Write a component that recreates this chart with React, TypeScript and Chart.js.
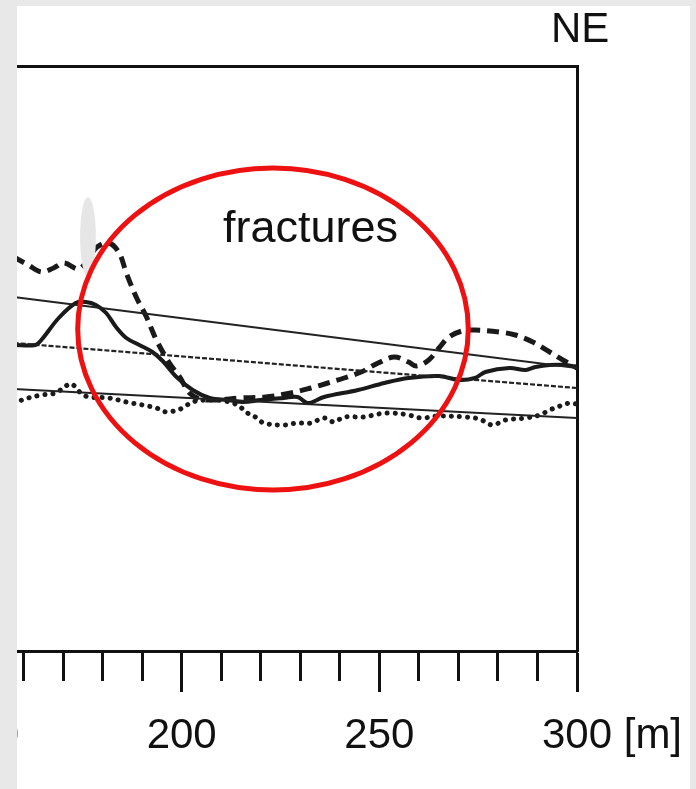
import React, { useEffect, useRef } from "react";
import { Chart, registerables } from "chart.js";

Chart.register(...registerables);

// distance along profile [m]
const dashedX = [157.5, 161.2, 164.5, 167.6, 170.2, 174.0, 176.5, 178.6, 181.6, 184.2, 186.0, 188.5, 191.1, 193.6, 196.9, 199.5, 202.0, 204.6, 208.4, 214.8, 221.2, 227.6, 232.7, 237.0, 241.1, 245.4, 249.7, 253.8, 257.4, 259.4, 262.5, 265.1, 267.6, 270.9, 274.2, 280.4, 284.4, 288.8, 293.1, 296.4, 300];
const dashedY = [394, 386, 379, 383, 388, 382, 393, 404, 408, 398, 378, 354, 334, 311, 288, 274, 258, 252, 251, 253, 254, 258, 263, 268, 273, 279, 288, 294, 289, 285, 291, 303, 314, 320, 321, 319, 316, 309, 299, 291, 283];

const solidX = [157.5, 163.0, 164.5, 168.9, 173.2, 175.8, 178.3, 180.9, 183.4, 186.0, 189.3, 192.6, 195.2, 198.7, 202.8, 207.1, 211.5, 215.6, 219.9, 225.8, 229.3, 231.9, 236.0, 244.6, 251.3, 257.4, 265.1, 270.2, 274.2, 276.8, 282.9, 287.0, 289.5, 293.1, 297.2, 300];
const solidY = [306, 306, 311, 333, 348, 349, 346, 338, 324, 313, 306, 299, 290, 274, 261, 253, 251, 249, 251, 253, 254, 248, 254, 261, 268, 273, 275, 271, 273, 279, 283, 281, 284, 286, 286, 284];

const dottedX = [157.5, 161.2, 164.5, 168.1, 170.7, 172.2, 174.5, 176.5, 181.6, 186.0, 190.1, 193.6, 196.2, 200.3, 202.6, 207.1, 212.2, 214.8, 216.6, 219.1, 220.7, 225.8, 229.3, 232.7, 236.0, 238.5, 241.1, 246.2, 249.7, 253.1, 257.4, 260.7, 265.1, 271.7, 275.3, 278.6, 281.9, 287.0, 290.6, 293.1, 295.7, 298.2, 300];
const dottedY = [248, 253, 256, 258, 265, 267, 258, 254, 253, 249, 246, 243, 239, 243, 249, 251, 249, 244, 238, 233, 228, 226, 228, 228, 233, 229, 234, 234, 237, 238, 236, 233, 235, 234, 232, 226, 231, 233, 236, 241, 245, 248, 247];

const trendX = [157.5, 300];
const trendUpper = [354, 283];
const trendMiddle = [308, 263];
const trendLower = [262, 233];

const xMin = 150;
const xMax = 300;
const xStep = 10;
const xLabelEvery = 50;
const yMin = 0;
const yMax = 585;

const fracturesLabel = "fractures";
const directionLabel = "NE";
const unitLabel = "[m]";

const FONT = "Liberation Sans, Arial, sans-serif";
const TICK_FONT_SIZE = 42;
const TICK_LEN = 41;
const TICK_PAD = 19;

const CANVAS_W = 770;
const CANVAS_H = 789;

const toPts = (xs: number[], ys: number[]) => xs.map((x, i) => ({ x, y: ys[i] }));

const overlayPlugin = {
  id: "overlay",
  afterDatasetsDraw(chart: any) {
    const { ctx } = chart;
    const x = chart.scales.x;
    const y = chart.scales.y;
    ctx.save();
    // scan artefact (light grey smudge)
    const bx = x.getPixelForValue(176.3);
    const by = y.getPixelForValue(414);
    const brx = Math.abs(x.getPixelForValue(178.3) - bx);
    const bry = Math.abs(y.getPixelForValue(454) - by);
    ctx.fillStyle = "#e6e6e6";
    ctx.beginPath();
    ctx.ellipse(bx, by, brx, bry, 0, 0, Math.PI * 2);
    ctx.fill();
    // red ellipse marking fractures zone
    const cx = x.getPixelForValue(223.1);
    const cy = y.getPixelForValue(322);
    const rx = Math.abs(x.getPixelForValue(223.1 + 49.4) - cx);
    const ry = Math.abs(y.getPixelForValue(322 + 161) - cy);
    ctx.strokeStyle = "#ee1111";
    ctx.lineWidth = 5;
    ctx.beginPath();
    ctx.ellipse(cx, cy, rx, ry, 0, 0, Math.PI * 2);
    ctx.stroke();
    ctx.restore();
  },
  afterDraw(chart: any) {
    const { ctx } = chart;
    const x = chart.scales.x;
    const y = chart.scales.y;
    ctx.save();
    ctx.fillStyle = "#111";
    ctx.font = `45px ${FONT}`;
    ctx.textAlign = "center";
    ctx.textBaseline = "alphabetic";
    ctx.fillText(fracturesLabel, x.getPixelForValue(232.6), y.getPixelForValue(409));
    ctx.font = `42px ${FONT}`;
    ctx.fillText(directionLabel, x.getPixelForValue(300.8), y.getPixelForValue(609));
    // unit after last tick label
    ctx.font = `${TICK_FONT_SIZE}px ${FONT}`;
    const px = x.getPixelForValue(xMax);
    const w = ctx.measureText(String(xMax)).width;
    const space = ctx.measureText(" ").width;
    ctx.textAlign = "left";
    ctx.textBaseline = "middle";
    const ly = x.top + TICK_LEN + TICK_PAD + (TICK_FONT_SIZE * 1.2) / 2;
    ctx.fillText(unitLabel, px + w / 2 + space, ly);
    ctx.restore();
  },
};

export default function App() {
  const ref = useRef<HTMLCanvasElement | null>(null);

  useEffect(() => {
    if (!ref.current) return;
    const line = "#1a1a1a";
    const chart = new Chart(ref.current, {
      type: "line",
      data: {
        datasets: [
          {
            data: toPts(trendX, trendUpper),
            borderColor: "#222",
            borderWidth: 2.2,
            pointRadius: 0,
            tension: 0,
          },
          {
            data: toPts(trendX, trendMiddle),
            borderColor: "#222",
            borderWidth: 2.2,
            borderDash: [5, 2],
            pointRadius: 0,
            tension: 0,
          },
          {
            data: toPts(trendX, trendLower),
            borderColor: "#222",
            borderWidth: 2.2,
            pointRadius: 0,
            tension: 0,
          },
          {
            data: toPts(dottedX, dottedY),
            borderColor: line,
            borderWidth: 5,
            borderDash: [0.1, 8],
            borderCapStyle: "round",
            pointRadius: 0,
            tension: 0.35,
          },
          {
            data: toPts(solidX, solidY),
            borderColor: line,
            borderWidth: 4,
            pointRadius: 0,
            tension: 0.35,
          },
          {
            data: toPts(dashedX, dashedY),
            borderColor: line,
            borderWidth: 5,
            borderDash: [12, 7],
            pointRadius: 0,
            tension: 0.35,
          },
        ],
      },
      options: {
        responsive: false,
        animation: false,
        events: [],
        layout: { padding: { left: 64, top: 66, right: 113, bottom: 38 } },
        plugins: { legend: { display: false }, tooltip: { enabled: false } },
        scales: {
          x: {
            type: "linear",
            position: "bottom",
            min: xMin,
            max: xMax,
            afterFit: (s: any) => {
              s.height = 100;
            },
            border: { display: true, color: "#111", width: 3 },
            grid: {
              display: true,
              drawOnChartArea: false,
              drawTicks: true,
              tickLength: TICK_LEN,
              tickWidth: 3,
              tickColor: "#111",
              tickBorderDash: (c: any) =>
                c.tick && c.tick.value % xLabelEvery === 0 ? [] : [28, 80],
            },
            ticks: {
              stepSize: xStep,
              autoSkip: false,
              maxRotation: 0,
              padding: TICK_PAD,
              color: "#111",
              font: { family: FONT, size: TICK_FONT_SIZE },
              callback: (v: any) => (Number(v) % xLabelEvery === 0 ? String(v) : ""),
            },
          },
          xTop: {
            type: "linear",
            position: "top",
            min: xMin,
            max: xMax,
            afterFit: (s: any) => {
              s.height = 0;
            },
            border: { display: true, color: "#111", width: 3 },
            grid: { display: false, drawTicks: false },
            ticks: { display: false },
          },
          y: {
            type: "linear",
            position: "right",
            min: yMin,
            max: yMax,
            afterFit: (s: any) => {
              s.width = 0;
            },
            border: { display: true, color: "#111", width: 3 },
            grid: { display: false, drawTicks: false },
            ticks: { display: false },
          },
        },
      },
      plugins: [overlayPlugin],
    } as any);
    return () => chart.destroy();
  }, []);

  return (
    <div
      style={{
        position: "fixed",
        left: 0,
        top: 0,
        width: 696,
        height: 789,
        background: "#e8e8e8",
        overflow: "hidden",
      }}
    >
      <div
        style={{
          position: "absolute",
          left: 17,
          top: 6,
          width: 673,
          height: 783,
          background: "#ffffff",
          overflow: "hidden",
        }}
      >
        <canvas
          ref={ref}
          width={CANVAS_W}
          height={CANVAS_H}
          style={{ position: "absolute", left: -97, top: -6, width: CANVAS_W, height: CANVAS_H }}
        />
      </div>
    </div>
  );
}
